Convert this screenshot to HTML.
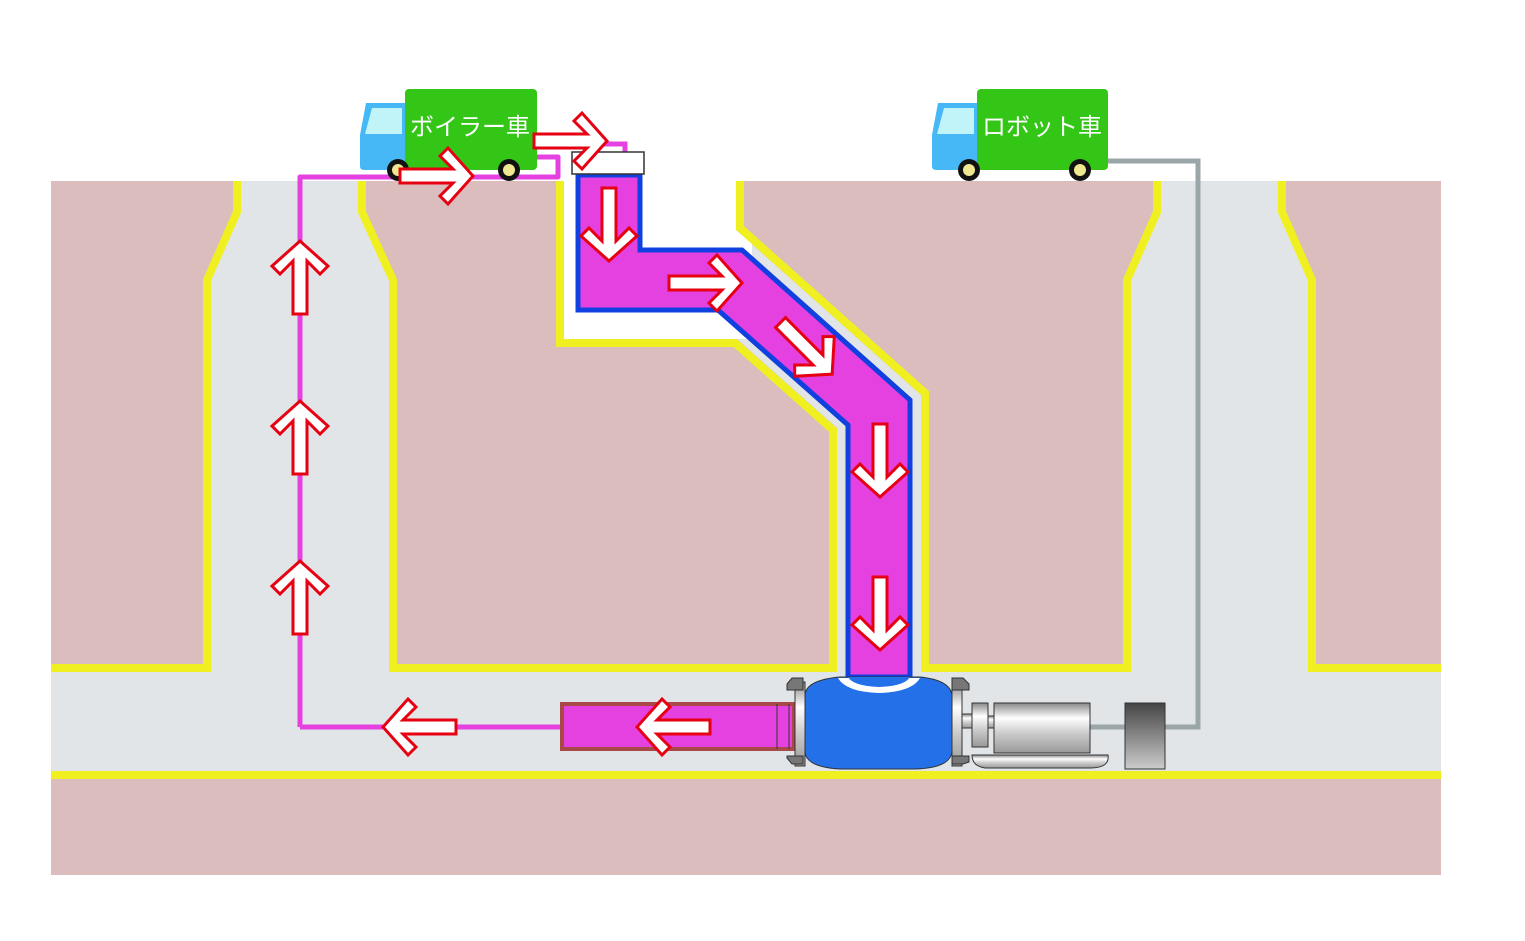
<!DOCTYPE html>
<html><head><meta charset="utf-8"><style>html,body{margin:0;padding:0;background:#fff}svg{display:block}</style></head>
<body>
<svg width="1525" height="941" viewBox="0 0 1525 941" xmlns="http://www.w3.org/2000/svg">
<defs>
<path id="ar" d="M-36,-7 L17,-7 L4,-20 L12,-28 L37,0 L12,28 L4,20 L17,7 L-36,7 Z" fill="#fff" stroke="#e60012" stroke-width="3" stroke-linejoin="miter"/>
<linearGradient id="mg" x1="0" y1="0" x2="0" y2="1"><stop offset="0" stop-color="#888"/><stop offset="0.3" stop-color="#fff"/><stop offset="0.6" stop-color="#ccc"/><stop offset="1" stop-color="#999"/></linearGradient>
<linearGradient id="dg" x1="0" y1="0" x2="0" y2="1"><stop offset="0" stop-color="#444"/><stop offset="1" stop-color="#ccc"/></linearGradient>
</defs>
<rect x="51" y="181" width="1390" height="694" fill="#dbbdbd"/>
<g fill="#e1e5e8">
<polygon points="241,181 358,181 358,212 389,280 389,672 211,672 211,280 241,212"/>
<polygon points="1161,181 1278,181 1278,212 1308,280 1308,672 1131,672 1131,280 1161,212"/>
<rect x="51" y="672" width="1390" height="100"/>
<polygon points="564,181 736,181 736,230 921,395 921,672 837,672 837,428 737,339 564,339"/>
</g>
<polygon points="564,181 736,181 736,230 752,244 752,339 564,339" fill="#fff"/>
<g fill="none" stroke="#f0f020" stroke-width="8">
<polyline points="51,668 207,668 207,280 237,212 237,181"/>
<polyline points="362,181 362,212 393,280 393,668 833,668 833,430 735,343 560,343 560,181"/>
<polyline points="740,181 740,228 925,393 925,668 1127,668 1127,280 1157,212 1157,181"/>
<polyline points="1282,181 1282,212 1312,280 1312,668 1441,668"/>
<line x1="51" y1="775" x2="1441" y2="775"/>
</g>
<polygon points="578,175 640,175 640,250 742,250 910,400 910,677 848,677 848,425 718,310 578,310" fill="#e541e0" stroke="#1040e0" stroke-width="5"/>
<polyline points="1106,161 1198,161 1198,727 1090,727" fill="none" stroke="#9aa6a8" stroke-width="5"/>
<polyline points="300,727 300,177 558,177 558,157 537,157" fill="none" stroke="#e541e0" stroke-width="5" stroke-linejoin="round"/>
<polyline points="535,144 625,144 625,153" fill="none" stroke="#e541e0" stroke-width="5"/>
<line x1="300" y1="727" x2="562" y2="727" stroke="#e541e0" stroke-width="5"/>
<rect x="572" y="152" width="72" height="22" fill="#fff" stroke="#333" stroke-width="1.5"/>
<g>
<path d="M366,103 L406,103 L406,170 L364,170 Q360,170 360,166 L360,135 Z" fill="#45b8f5"/>
<path d="M372,108 L402,108 L402,134 L365,134 Z" fill="#c0f4f8"/>
<rect x="405" y="89" width="132" height="81" rx="4" fill="#33c617"/>
<circle cx="398" cy="170" r="11" fill="#111"/><circle cx="398" cy="170" r="6" fill="#f0e890"/>
<circle cx="509" cy="170" r="11" fill="#111"/><circle cx="509" cy="170" r="6" fill="#f0e890"/>
<text x="470" y="135" font-family="Liberation Sans, Noto Sans CJK JP, sans-serif" font-size="24" fill="#fff" text-anchor="middle">ボイラー車</text>
</g>
<g>
<path d="M938,103 L978,103 L978,170 L936,170 Q932,170 932,166 L932,135 Z" fill="#45b8f5"/>
<path d="M944,108 L974,108 L974,134 L937,134 Z" fill="#c0f4f8"/>
<rect x="977" y="89" width="131" height="81" rx="4" fill="#33c617"/>
<circle cx="969" cy="170" r="11" fill="#111"/><circle cx="969" cy="170" r="6" fill="#f0e890"/>
<circle cx="1080" cy="170" r="11" fill="#111"/><circle cx="1080" cy="170" r="6" fill="#f0e890"/>
<text x="1042" y="135" font-family="Liberation Sans, Noto Sans CJK JP, sans-serif" font-size="24" fill="#fff" text-anchor="middle">ロボット車</text>
</g>
<rect x="562" y="704" width="232" height="45" fill="#e541e0" stroke="#a84848" stroke-width="4"/>
<line x1="777" y1="704" x2="777" y2="749" stroke="#333" stroke-width="1"/>
<line x1="789" y1="704" x2="789" y2="749" stroke="#333" stroke-width="1"/>
<g stroke="#333" stroke-width="1">
<rect x="795" y="682" width="10" height="84" fill="url(#mg)"/>
<path d="M787,684 L792,678 L803,678 L803,690 L787,690 Z" fill="#777"/>
<path d="M787,758 L792,764 L803,764 L803,756 L787,756 Z" fill="#777"/>
<path d="M805,695 Q806,680 840,677 L920,677 Q950,680 952,695 L952,752 Q950,768 915,769 L840,769 Q806,767 805,752 Z" fill="#2370e8"/>
<path d="M838,678 L920,678 Q912,692 879,693 Q846,692 838,678 Z" fill="#fff" stroke="none"/>
<path d="M848,677 L910,677 Q905,686 879,687 Q853,686 848,677 Z" fill="#2370e8" stroke="none"/>
<rect x="952" y="682" width="10" height="84" fill="url(#mg)"/>
<path d="M952,678 L963,678 L969,684 L969,690 L952,690 Z" fill="#777"/>
<path d="M952,756 L969,756 L969,762 L963,764 L952,764 Z" fill="#777"/>
<rect x="962" y="714" width="12" height="14" fill="url(#mg)"/>
<rect x="972" y="703" width="16" height="44" fill="url(#mg)"/>
<rect x="988" y="716" width="6" height="12" fill="url(#mg)"/>
<rect x="994" y="703" width="96" height="50" fill="url(#mg)"/>
<path d="M972,755 L1108,755 Q1110,768 1090,768 L985,768 Q972,766 972,755 Z" fill="url(#mg)"/>
<rect x="1125" y="703" width="40" height="66" fill="url(#dg)"/>
</g>
<use href="#ar" transform="translate(436,176)"/>
<use href="#ar" transform="translate(570,141)"/>
<use href="#ar" transform="translate(609,224) rotate(90)"/>
<use href="#ar" transform="translate(705,283)"/>
<use href="#ar" transform="translate(806,348) rotate(45)"/>
<use href="#ar" transform="translate(880,460) rotate(90)"/>
<use href="#ar" transform="translate(880,613) rotate(90)"/>
<use href="#ar" transform="translate(420,727) rotate(180)"/>
<use href="#ar" transform="translate(674,727) rotate(180)"/>
<use href="#ar" transform="translate(300,278) rotate(-90)"/>
<use href="#ar" transform="translate(300,438) rotate(-90)"/>
<use href="#ar" transform="translate(300,598) rotate(-90)"/>
</svg>
</body></html>
